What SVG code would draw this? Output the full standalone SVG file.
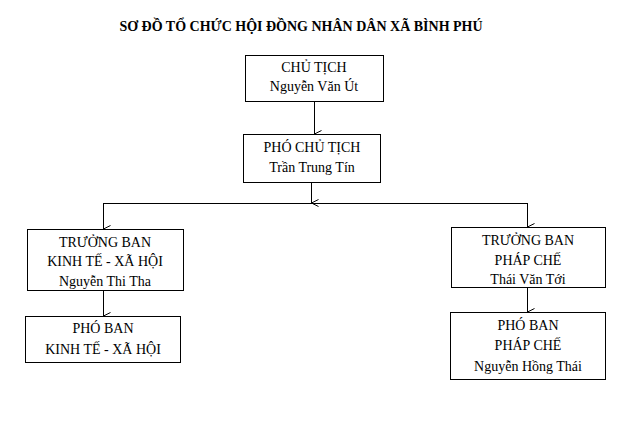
<svg xmlns="http://www.w3.org/2000/svg" width="627" height="427" viewBox="0 0 627 427">
<style>
.box{fill:#fff;stroke:#000;stroke-width:1}
.t{font-family:"Liberation Serif","Times New Roman",serif;font-size:14px;fill:#000;text-anchor:middle}
.title{font-family:"Liberation Serif","Times New Roman",serif;font-size:14px;font-weight:bold;fill:#000;text-anchor:middle}
.c{fill:none;stroke:#000;stroke-width:1}
</style>
<defs>
<marker id="v" markerWidth="12" markerHeight="12" refX="6" refY="10" orient="auto" markerUnits="userSpaceOnUse" viewBox="0 0 12 12">
<polyline points="2.5,3 6,10 9.5,3" fill="none" stroke="#000" stroke-width="1"/>
</marker>
</defs>
<rect width="627" height="427" fill="#fff"/>
<text class="title" x="301" y="31">SƠ ĐỒ TỔ CHỨC HỘI ĐỒNG NHÂN DÂN XÃ BÌNH PHÚ</text>
<g id="connectors">
<line class="c" x1="314.5" y1="101" x2="314.5" y2="134" marker-end="url(#v)"/>
<line class="c" x1="311.5" y1="182" x2="311.5" y2="203" marker-end="url(#v)"/>
<polyline class="c" points="103.5,203.5 527.5,203.5"/>
<line class="c" x1="103.5" y1="203" x2="103.5" y2="229" marker-end="url(#v)"/>
<line class="c" x1="527.5" y1="203" x2="527.5" y2="227" marker-end="url(#v)"/>
<line class="c" x1="103.5" y1="290" x2="103.5" y2="316" marker-end="url(#v)"/>
<line class="c" x1="527.5" y1="287" x2="527.5" y2="312" marker-end="url(#v)"/>
</g>
<g id="chu-tich">
<rect class="box" x="245.5" y="55.5" width="138" height="46"/>
<text class="t" x="314" y="72">CHỦ TỊCH</text>
<text class="t" x="314" y="91">Nguyễn Văn Út</text>
</g>
<g id="pho-chu-tich">
<rect class="box" x="243.5" y="134.5" width="137" height="48"/>
<text class="t" x="312" y="152">PHÓ CHỦ TỊCH</text>
<text class="t" x="312" y="172">Trần Trung Tín</text>
</g>
<g id="truong-ban-kt">
<rect class="box" x="27.5" y="229.5" width="156" height="61"/>
<text class="t" x="105" y="247">TRƯỞNG BAN</text>
<text class="t" x="105" y="266">KINH TẾ - XÃ HỘI</text>
<text class="t" x="105" y="286">Nguyễn Thi Tha</text>
</g>
<g id="pho-ban-kt">
<rect class="box" x="25.5" y="316.5" width="155" height="46"/>
<text class="t" x="103" y="333">PHÓ BAN</text>
<text class="t" x="103" y="354">KINH TẾ - XÃ HỘI</text>
</g>
<g id="truong-ban-pc">
<rect class="box" x="451.5" y="227.5" width="154" height="60"/>
<text class="t" x="528" y="245">TRƯỞNG BAN</text>
<text class="t" x="528" y="265">PHÁP CHẾ</text>
<text class="t" x="528" y="284">Thái Văn Tới</text>
</g>
<g id="pho-ban-pc">
<rect class="box" x="450.5" y="312.5" width="155" height="67"/>
<text class="t" x="528" y="330">PHÓ BAN</text>
<text class="t" x="528" y="350">PHÁP CHẾ</text>
<text class="t" x="528" y="371">Nguyễn Hồng Thái</text>
</g>
</svg>
